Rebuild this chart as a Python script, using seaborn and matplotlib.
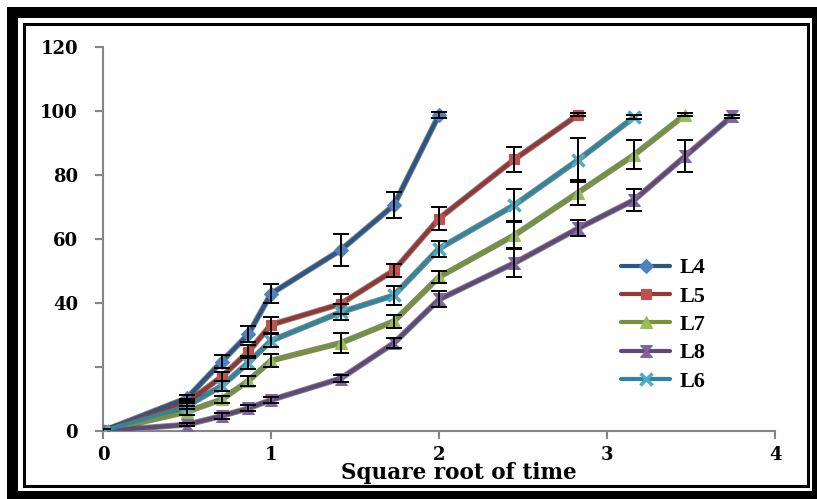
import numpy as np
import pandas as pd
import seaborn as sns
import matplotlib.pyplot as plt
from matplotlib.patches import Rectangle

# sqrt(time) values
x_all = [0, 0.5, 0.707, 0.866, 1, 1.414, 1.732, 2, 2.449, 2.828, 3.162, 3.464, 3.742]

l4 = [0, 10.3, 21.7, 30.3, 42.9, 56.5, 70.6, 98.8]
l5 = [0, 8.9, 17.0, 24.8, 33.2, 39.7, 50.2, 66.4, 84.9, 98.8]
l7 = [0, 6.0, 9.9, 15.7, 22.0, 27.5, 34.3, 48.1, 61.2, 74.5, 86.3, 98.8]
l8 = [0, 2.0, 4.7, 7.1, 9.7, 16.4, 27.5, 41.1, 52.5, 63.3, 72.2, 85.8, 98.3]
l6 = [0, 7.8, 14.1, 21.4, 28.2, 37.1, 42.4, 57.0, 70.6, 84.7, 98.1]

e4 = [0.5, 1, 2, 2.5, 3, 5, 4, 1]
e5 = [0.5, 1, 1.5, 2, 2.5, 3, 2, 3.5, 4, 0.5]
e7 = [0.5, 1, 1, 1.5, 2, 3, 2, 2, 4, 4, 4.5, 0.5]
e8 = [0.5, 0.5, 0.8, 1, 1, 1, 1.5, 2.5, 4.5, 2.5, 3.5, 5, 0.5]
e6 = [0.5, 1, 1.5, 2, 2, 2.5, 3, 2.5, 5, 7, 0.5]

names = ["L4", "L5", "L7", "L8", "L6"]
values = [l4, l5, l7, l8, l6]
errors = [e4, e5, e7, e8, e6]
line_colors = ["#2A5783", "#953735", "#76923C", "#5F497A", "#31859C"]
marker_colors = ["#4F81BD", "#C0504D", "#9BBB59", "#8064A2", "#4BACC6"]
hourglass = [(-1, 1), (1, 1), (0.15, 0), (1, -1), (-1, -1), (-0.15, 0), (-1, 1)]
markers = ["D", "s", "^", hourglass, "x"]
msizes = [7, 6.5, 8.5, 8.5, 8]

sns.set_style("white")
plt.rcParams['font.family'] = ['DejaVu Serif']
plt.rcParams['text.color'] = 'black'

fig = plt.figure(figsize=(8.17, 4.99), dpi=100)
W, H = 817, 499


def px_rect(x0, y0, x1, y1, **kw):
    return Rectangle((x0 / W, 1 - y1 / H), (x1 - x0) / W, (y1 - y0) / H,
                     transform=fig.transFigure, **kw)


# double frame
fig.add_artist(px_rect(7, 7, 817, 499, facecolor="black", edgecolor="none", zorder=-10))
fig.add_artist(px_rect(18, 18, 812, 491, facecolor="white", edgecolor="none", zorder=-9))
fig.add_artist(px_rect(23.5, 23.5, 808, 485.5, facecolor="none", edgecolor="black",
                       linewidth=2.2, zorder=-8))

ax = fig.add_axes([103 / W, 1 - 431 / H, (775 - 103) / W, (431 - 47) / H])
ax.set_facecolor("none")

for name, yv, ev, lc, mc, mk, ms in zip(names, values, errors, line_colors,
                                        marker_colors, markers, msizes):
    df = pd.DataFrame({"x": x_all[:len(yv)], "y": yv})
    # dark edge under the line
    sns.lineplot(data=df, x="x", y="y", ax=ax, color="#222222", linewidth=4.3,
                 alpha=0.55, legend=False, zorder=2)
    sns.lineplot(data=df, x="x", y="y", ax=ax, color=lc, linewidth=3,
                 marker=mk, markersize=ms, markerfacecolor=mc, markeredgecolor=mc,
                 markeredgewidth=2.5 if mk == "x" else 0.8, label=name, zorder=3)
    ax.errorbar(df["x"], df["y"], yerr=ev, fmt="none", ecolor="black",
                elinewidth=1.4, capsize=5.5, capthick=1.4, zorder=4)

ax.set_xlim(0, 4)
ax.set_ylim(0, 120)
ax.set_xticks([0, 1, 2, 3, 4])
ax.set_yticks([0, 20, 40, 60, 80, 100, 120])
ax.set_yticklabels(["0", "", "40", "60", "80", "100", "120"])
for s in ["top", "right"]:
    ax.spines[s].set_visible(False)
for s in ["left", "bottom"]:
    ax.spines[s].set_color("#868686")
    ax.spines[s].set_linewidth(1.5)
ax.tick_params(axis="both", direction="out", length=6, width=1.5, color="#868686",
               labelsize=13, labelcolor="black")
ax.tick_params(axis="y", pad=12, left=True)
ax.tick_params(axis="x", pad=5, bottom=True)
for lab in ax.get_xticklabels() + ax.get_yticklabels():
    lab.set_fontweight("bold")

ax.set_xlabel("Square root of time", fontsize=15.5, fontweight="bold",
              family="DejaVu Serif", color="black")
ax.xaxis.set_label_coords(0.53, -0.082)
ax.set_ylabel("")

leg = ax.legend(loc="upper left", bbox_to_anchor=(0.755, 0.48), frameon=False,
                handlelength=2.2, labelspacing=0.35, borderpad=0, handletextpad=0.4,
                labelcolor="black",
                prop={"family": "Liberation Serif", "weight": "bold", "size": 16})

fig.savefig("out.png", dpi=100)
